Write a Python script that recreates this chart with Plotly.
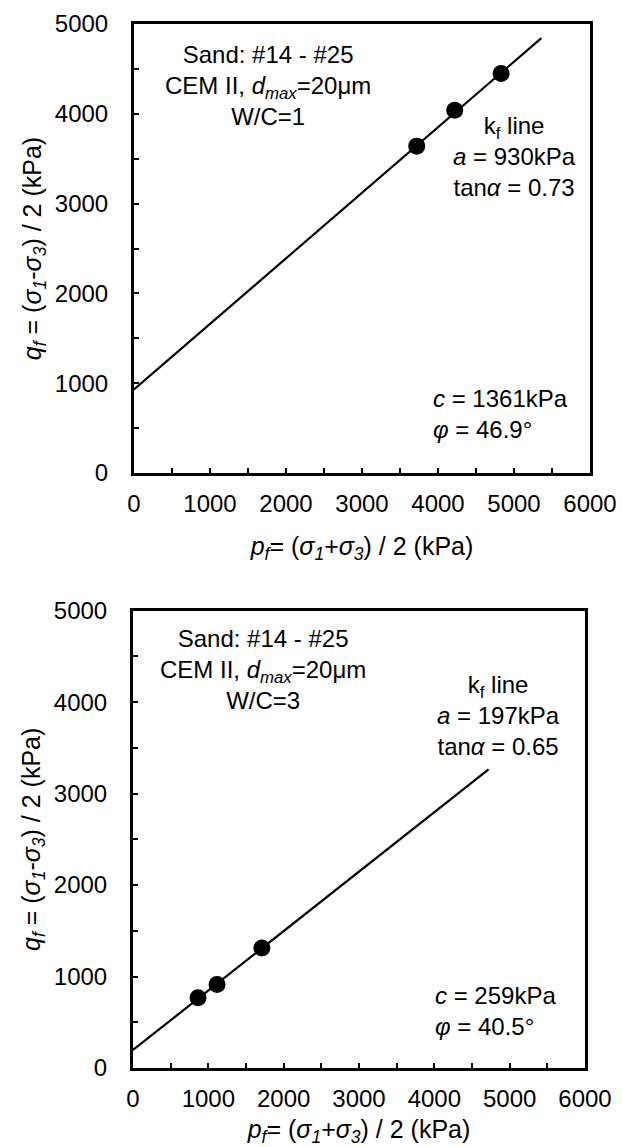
import plotly.graph_objects as go

# ---------------- data ----------------
# Panel 1: W/C = 1
p_wc1 = [3720, 4220, 4830]
q_wc1 = [3640, 4040, 4450]
kf_p_wc1 = [0, 5360]
kf_q_wc1 = [930, 4843]

# Panel 2: W/C = 3
p_wc3 = [863, 1116, 1711]
q_wc3 = [767, 913, 1313]
kf_p_wc3 = [0, 4720]
kf_q_wc3 = [197, 3265]

x_range = [0, 6000]
y_range = [0, 5000]
x_ticks = [0, 1000, 2000, 3000, 4000, 5000, 6000]
y_ticks = [0, 1000, 2000, 3000, 4000, 5000]

sample_text_wc1 = "Sand: #14 - #25<br>CEM II, <i>d<sub>max</sub></i>=20μm<br>W/C=1"
sample_text_wc3 = "Sand: #14 - #25<br>CEM II, <i>d<sub>max</sub></i>=20μm<br>W/C=3"
kf_text_wc1 = "k<sub>f</sub> line<br><i>a</i> = 930kPa<br>tan<i>α</i> = 0.73"
kf_text_wc3 = "k<sub>f</sub> line<br><i>a</i> = 197kPa<br>tan<i>α</i> = 0.65"
mc_text_wc1 = "<i>c</i> = 1361kPa<br><i>φ</i> = 46.9°"
mc_text_wc3 = "<i>c</i> = 259kPa<br><i>φ</i> = 40.5°"

x_title = "<i>p<sub>f</sub></i>= (<i>σ<sub>1</sub></i>+<i>σ<sub>3</sub></i>) / 2 (kPa)"
y_title = "<i>q<sub>f</sub></i> = (<i>σ<sub>1</sub></i>-<i>σ<sub>3</sub></i>) / 2 (kPa)"

FONT = "Liberation Sans, Arial, sans-serif"
FS = 24
FS_TITLE = 25

fig = go.Figure()

# panel 1
fig.add_trace(go.Scatter(x=kf_p_wc1, y=kf_q_wc1, mode="lines",
                         line=dict(color="black", width=2.2), xaxis="x", yaxis="y",
                         showlegend=False, hoverinfo="skip"))
fig.add_trace(go.Scatter(x=p_wc1, y=q_wc1, mode="markers",
                         marker=dict(color="black", size=17), xaxis="x", yaxis="y",
                         showlegend=False))
# panel 2
fig.add_trace(go.Scatter(x=kf_p_wc3, y=kf_q_wc3, mode="lines",
                         line=dict(color="black", width=2.2), xaxis="x2", yaxis="y2",
                         showlegend=False, hoverinfo="skip"))
fig.add_trace(go.Scatter(x=p_wc3, y=q_wc3, mode="markers",
                         marker=dict(color="black", size=17), xaxis="x2", yaxis="y2",
                         showlegend=False))


def xaxis(domain, anchor, title_standoff):
    return dict(domain=domain, anchor=anchor, range=x_range, tickvals=x_ticks,
                automargin=False,
                showgrid=False, zeroline=False, showline=True, linecolor="black",
                linewidth=3, mirror=True, ticks="inside", ticklen=5, tickwidth=2,
                tickcolor="black", ticklabelstandoff=7,
                minor=dict(ticks="inside", dtick=500, ticklen=5, tickwidth=2,
                           tickcolor="black", showgrid=False),
                tickfont=dict(family=FONT, size=FS, color="black"),
                title=dict(text=x_title, font=dict(family=FONT, size=FS_TITLE, color="black"),
                           standoff=title_standoff))


def yaxis(domain, anchor):
    return dict(domain=domain, anchor=anchor, range=y_range, tickvals=y_ticks,
                automargin=False,
                showgrid=False, zeroline=False, showline=True, linecolor="black",
                linewidth=3, mirror=True, ticks="inside", ticklen=5, tickwidth=2,
                tickcolor="black", ticklabelstandoff=18,
                minor=dict(ticks="inside", dtick=500, ticklen=5, tickwidth=2,
                           tickcolor="black", showgrid=False),
                tickfont=dict(family=FONT, size=FS, color="black"),
                title=dict(text=y_title, font=dict(family=FONT, size=FS_TITLE, color="black"),
                           standoff=7))


H = 1147
W = 622
fig.update_layout(
    width=W, height=H,
    margin=dict(l=0, r=0, t=0, b=0, autoexpand=False),
    paper_bgcolor="white", plot_bgcolor="white",
    font=dict(family=FONT, size=FS, color="black"),
    showlegend=False,
    hovermode=False,
    xaxis=xaxis([134 / W, 590 / W], "y", 22),
    yaxis=yaxis([1 - 473 / H, 1 - 24 / H], "x"),
    xaxis2=xaxis([133 / W, 585 / W], "y2", 25),
    yaxis2=yaxis([1 - 1068 / H, 1 - 610.7 / H], "x2"),
)

ann_font = dict(family=FONT, size=FS, color="black")
annotations = [
    dict(x=1763, y=4310, xref="x", yref="y", text=sample_text_wc1, xanchor="center",
         yanchor="middle", align="center"),
    dict(x=5000, y=3519, xref="x", yref="y", text=kf_text_wc1, xanchor="center",
         yanchor="middle", align="center"),
    dict(x=3908, y=657, xref="x", yref="y", text=mc_text_wc1, xanchor="left",
         yanchor="middle", align="left"),
    dict(x=1726, y=4361, xref="x2", yref="y2", text=sample_text_wc3, xanchor="center",
         yanchor="middle", align="center"),
    dict(x=4847, y=3858, xref="x2", yref="y2", text=kf_text_wc3, xanchor="center",
         yanchor="middle", align="center"),
    dict(x=3984, y=623, xref="x2", yref="y2", text=mc_text_wc3, xanchor="left",
         yanchor="middle", align="left"),
]
for a in annotations:
    a.update(showarrow=False, font=ann_font)
fig.update_layout(annotations=annotations)

fig.write_html("out.html", config={"displayModeBar": False})
